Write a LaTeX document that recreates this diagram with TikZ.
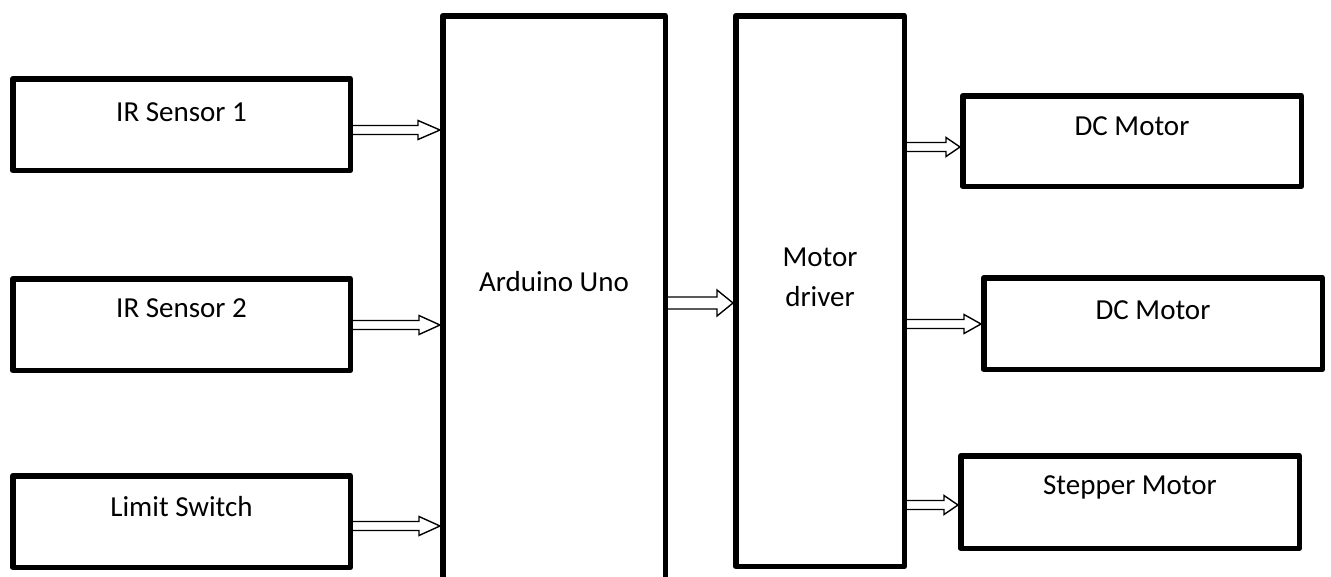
\documentclass[tikz,border=0pt]{standalone}
\usepackage{fontspec}
\setmainfont{Carlito}
\usetikzlibrary{calc}
\tikzset{
	blk/.style={draw,line width=5.5pt,inner sep=0pt},
	txt/.style={font=\fontsize{29}{40}\selectfont,align=center},
	fat/.style={draw,fill=white,line width=1.4pt,line join=miter}
}
% hollow block arrow: from, to, y, head length, half shaft, half head
\newcommand{\fatarrow}[6]{%
	\path (#1.east |- 0,#3) coordinate (p0) (#2.west |- 0,#3) coordinate (p1);
	\draw[fat] ($(p0)+(0,-#5)$) -- ($(p1)+(-#4,-#5)$) -- ($(p1)+(-#4,-#6)$) -- (p1)
	-- ($(p1)+(-#4,#6)$) -- ($(p1)+(-#4,#5)$) -- ($(p0)+(0,#5)$);}
\begin{document}
\begin{tikzpicture}[x=1pt,y=-1pt,line join=round]
	\useasboundingbox (0,0) rectangle (1331,576);
	\clip (0,0) rectangle (1331,576);
	
	% inputs
	\node[blk,minimum width=337.5pt,minimum height=91.5pt,label={[txt,yshift=12.5pt]center:IR Sensor 1}] (ir1) at (181.5,124.5) {};
	\node[blk,minimum width=337.5pt,minimum height=91.5pt,label={[txt,yshift=16.5pt]center:IR Sensor 2}] (ir2) at (181.5,324.5) {};
	\node[blk,minimum width=337.5pt,minimum height=91.5pt,label={[txt,yshift=14.5pt]center:Limit Switch}] (lim) at (181.5,521.5) {};
	
	% controller and driver
	\node[blk,minimum width=222.5pt,minimum height=581.5pt,label={[txt,yshift=24.5pt]center:Arduino Uno}] (ard) at (554,306.5) {};
	\node[blk,minimum width=168.5pt,minimum height=550.5pt,label={[txt,yshift=14pt]center:Motor\\driver}] (drv) at (820,291) {};
	
	% outputs
	\node[blk,minimum width=338.5pt,minimum height=90.5pt,label={[txt,yshift=15pt]center:DC Motor}] (dc1) at (1132,141) {};
	\node[blk,minimum width=338.5pt,minimum height=91.5pt,label={[txt,yshift=13.5pt]center:DC Motor}] (dc2) at (1153,323.5) {};
	\node[blk,minimum width=338.5pt,minimum height=92.5pt,label={[txt,yshift=15pt]center:Stepper Motor}] (stp) at (1130,502) {};
	
	\fatarrow{ir1}{ard}{130}{22}{4.5}{9.5}
	\fatarrow{ir2}{ard}{325}{21}{4.5}{9.5}
	\fatarrow{lim}{ard}{526}{21}{4.5}{9.5}
	\fatarrow{ard}{drv}{303}{16}{6}{13}
	\fatarrow{drv}{dc1}{147}{14}{4.5}{9.5}
	\fatarrow{drv}{dc2}{324}{17}{4.5}{9.5}
	\fatarrow{drv}{stp}{505}{14}{4.5}{9.5}
\end{tikzpicture}
\end{document}
